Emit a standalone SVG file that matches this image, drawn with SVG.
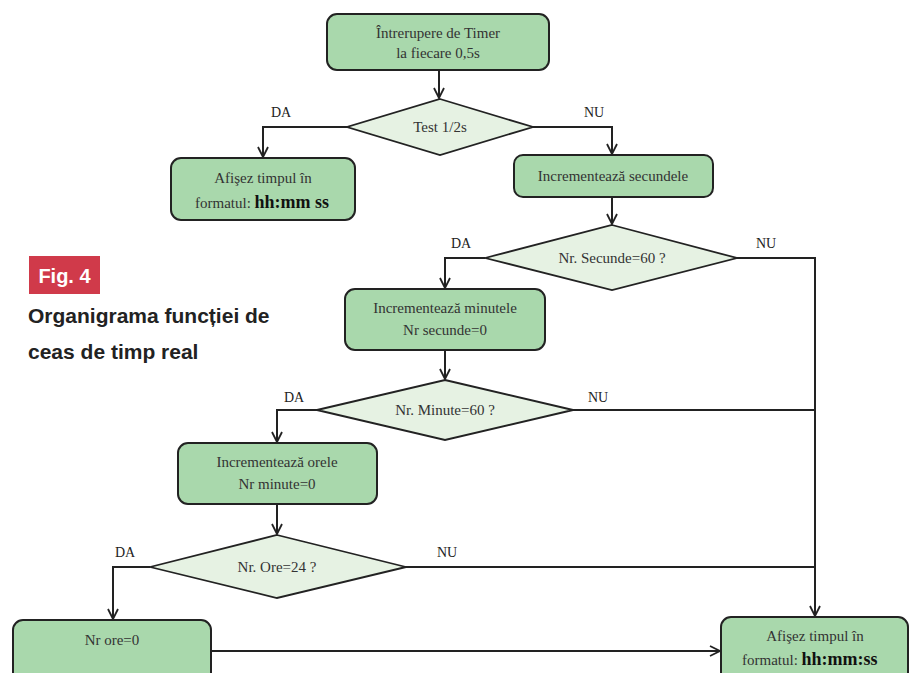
<svg xmlns="http://www.w3.org/2000/svg" width="914" height="673" viewBox="0 0 914 673">
<style>
.box{fill:#a9d8ac;stroke:#222;stroke-width:2}
.dia{fill:#e6f2e3;stroke:#222;stroke-width:1.8}
.t{font-family:"Liberation Serif","Times New Roman",serif;font-size:15px;fill:#333;text-anchor:middle}
.f{font-family:"Liberation Serif","Times New Roman",serif;font-size:15px;fill:#333}
.b{font-family:"Liberation Serif","Times New Roman",serif;font-weight:bold;font-size:18px;fill:#111}
.lbl{font-family:"Liberation Serif","Times New Roman",serif;font-size:14px;fill:#222;text-anchor:middle}
.ln{fill:none;stroke:#222;stroke-width:2}
.cap{font-family:"Liberation Sans",Arial,sans-serif;font-weight:bold;font-size:21px;fill:#222}
</style>
<defs>
<marker id="ar" viewBox="0 0 12 12" refX="11" refY="6" markerWidth="12" markerHeight="12" markerUnits="userSpaceOnUse" orient="auto">
<path d="M1,1 L11,6 L1,11" fill="none" stroke="#222" stroke-width="1.8"/>
</marker>
</defs>
<rect width="914" height="673" fill="#fff"/>

<g id="caption">
<rect x="29" y="256" width="71" height="38" fill="#d03a4a"/>
<text x="64.5" y="283" font-family="Liberation Sans, Arial, sans-serif" font-weight="bold" font-size="20" fill="#fff" text-anchor="middle">Fig. 4</text>
<text class="cap" x="28" y="323">Organigrama funcției de</text>
<text class="cap" x="28" y="359">ceas de timp real</text>
</g>

<g id="connectors">
<path class="ln" d="M439,70 V98" marker-end="url(#ar)"/>
<path class="ln" d="M347,127 H263 V157" marker-end="url(#ar)"/>
<path class="ln" d="M533,127 H612 V154" marker-end="url(#ar)"/>
<path class="ln" d="M612,197 V224" marker-end="url(#ar)"/>
<path class="ln" d="M485,258 H445 V288" marker-end="url(#ar)"/>
<path class="ln" d="M737,258 H815 V616" marker-end="url(#ar)"/>
<path class="ln" d="M445,350 V379" marker-end="url(#ar)"/>
<path class="ln" d="M317,410 H277 V442" marker-end="url(#ar)"/>
<path class="ln" d="M573,410 H815"/>
<path class="ln" d="M277,504 V534" marker-end="url(#ar)"/>
<path class="ln" d="M150,567 H113 V619" marker-end="url(#ar)"/>
<path class="ln" d="M406,567 H815"/>
<path class="ln" d="M211,651 H720" marker-end="url(#ar)"/>
<text class="lbl" x="281" y="117">DA</text>
<text class="lbl" x="594" y="117">NU</text>
<text class="lbl" x="461" y="248">DA</text>
<text class="lbl" x="766" y="248">NU</text>
<text class="lbl" x="294" y="402">DA</text>
<text class="lbl" x="598" y="402">NU</text>
<text class="lbl" x="125" y="557">DA</text>
<text class="lbl" x="447" y="557">NU</text>
</g>

<g id="n-timer">
<rect class="box" x="327" y="14" width="222" height="56" rx="10"/>
<text class="t" x="438" y="38">Întrerupere de Timer</text>
<text class="t" x="438" y="58">la fiecare 0,5s</text>
</g>

<g id="n-test">
<polygon class="dia" points="440,99 533,127 440,155 347,127"/>
<text class="t" x="440" y="132">Test 1/2s</text>
</g>

<g id="n-afis1">
<rect class="box" x="171" y="158" width="184" height="62" rx="10"/>
<text class="t" x="263" y="183">Afişez timpul în</text>
<text class="f" x="195" y="208">formatul: <tspan class="b">hh:mm ss</tspan></text>
</g>

<g id="n-sec">
<rect class="box" x="514" y="155" width="199" height="42" rx="9"/>
<text class="t" x="613" y="181">Incrementează secundele</text>
</g>

<g id="n-dsec">
<polygon class="dia" points="612,225 737,258 612,290 485,258"/>
<text class="t" x="612" y="263">Nr. Secunde=60 ?</text>
</g>

<g id="n-min">
<rect class="box" x="345" y="289" width="200" height="61" rx="10"/>
<text class="t" x="445" y="313">Incrementează minutele</text>
<text class="t" x="445" y="335">Nr secunde=0</text>
</g>

<g id="n-dmin">
<polygon class="dia" points="445,380 573,410 445,440 317,410"/>
<text class="t" x="445" y="415">Nr. Minute=60 ?</text>
</g>

<g id="n-ore">
<rect class="box" x="178" y="443" width="199" height="61" rx="10"/>
<text class="t" x="277" y="467">Incrementează orele</text>
<text class="t" x="277" y="489">Nr minute=0</text>
</g>

<g id="n-dore">
<polygon class="dia" points="277,535 406,567 277,598 150,567"/>
<text class="t" x="277" y="572">Nr. Ore=24 ?</text>
</g>

<g id="n-ore0">
<rect class="box" x="13" y="620" width="198" height="70" rx="10"/>
<text class="t" x="112" y="645">Nr ore=0</text>
</g>

<g id="n-afis2">
<rect class="box" x="721" y="617" width="187" height="73" rx="10"/>
<text class="t" x="815" y="641">Afişez timpul în</text>
<text class="f" x="742" y="665">formatul: <tspan class="b">hh:mm:ss</tspan></text>
</g>
</svg>
